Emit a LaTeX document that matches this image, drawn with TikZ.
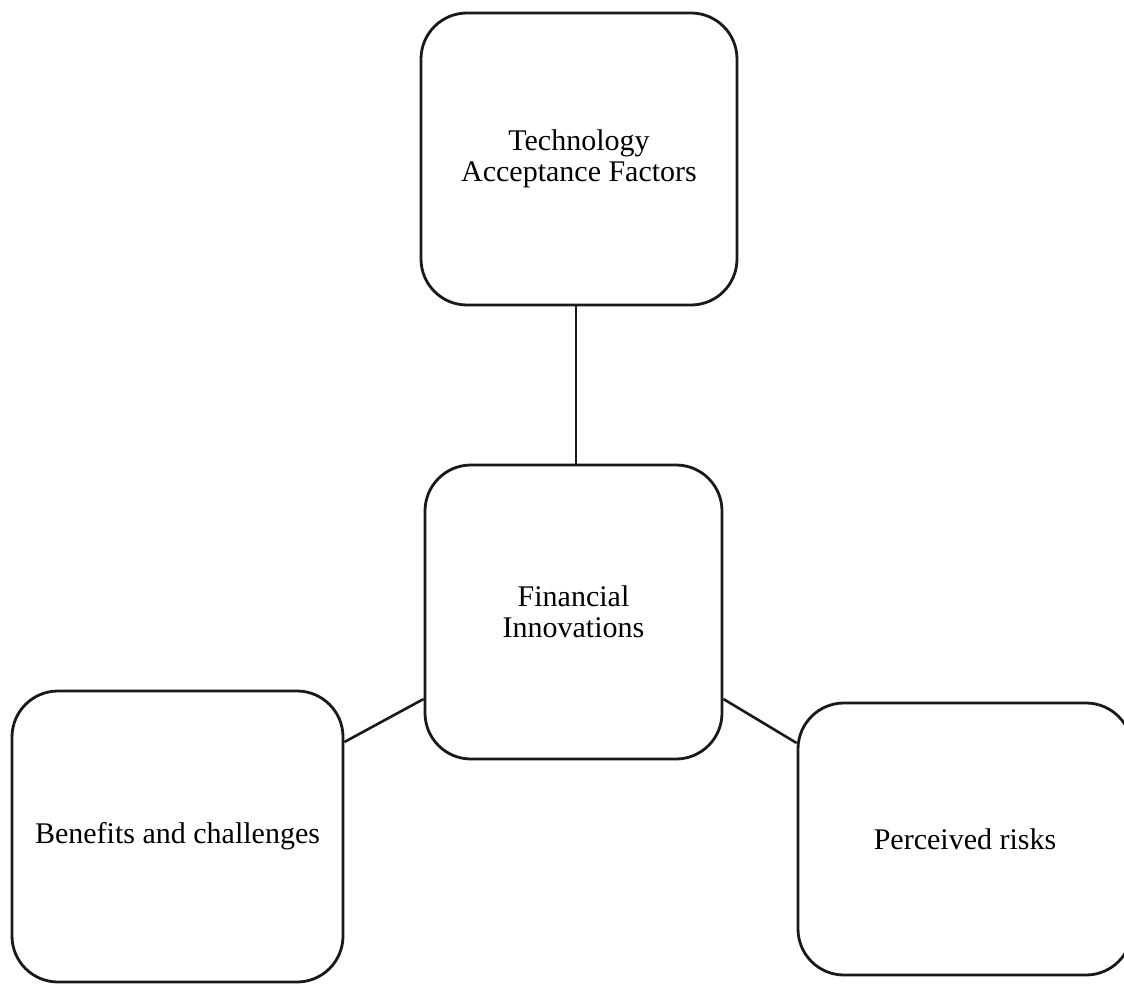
\documentclass[tikz,border=0pt]{standalone}
\usepackage{fontspec}
\setmainfont{Liberation Serif}
\begin{document}
\begin{tikzpicture}[x=1pt,y=1pt,
  box/.style={draw=black!90, line width=2.8pt, rounded corners=46pt, inner sep=0pt,
    align=center, font=\fontsize{30}{31}\selectfont},
  link/.style={draw=black!90, line width=2.6pt}]
\useasboundingbox (0,0) rectangle (1124,-984);
\node[box, minimum width=316pt, minimum height=292pt] (top) at (579,-159) {Technology\\Acceptance Factors};
\node[box, minimum width=297pt, minimum height=294pt] (center) at (573.5,-612) {Financial\\Innovations};
\node[box, minimum width=331pt, minimum height=291pt] (left) at (177.5,-836.5) {Benefits and challenges};
\node[box, minimum width=334pt, minimum height=272pt] (right) at (965,-839) {Perceived risks};
\draw[link] ([xshift=-3pt]top.south) -- ([xshift=2.5pt]center.north);
\draw[link] ([yshift=94.5pt]left.east) -- ([yshift=-87pt]center.west);
\draw[link] ([yshift=-87pt]center.east) -- ([yshift=96pt]right.west);
\end{tikzpicture}
\end{document}
